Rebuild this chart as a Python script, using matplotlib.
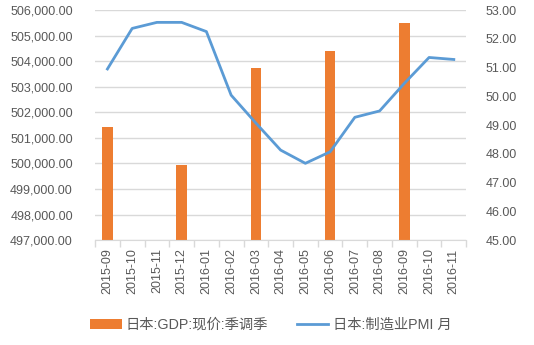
import numpy as np
import matplotlib
matplotlib.use('Agg')
import matplotlib.pyplot as plt
from matplotlib.ticker import FuncFormatter, FixedLocator

# data
months = ['2015-09', '2015-10', '2015-11', '2015-12', '2016-01', '2016-02',
          '2016-03', '2016-04', '2016-05', '2016-06', '2016-07', '2016-08',
          '2016-09', '2016-10', '2016-11']
gdp_idx = [0, 3, 6, 9, 12]               # quarters with a GDP value
gdp = [501420, 499935, 503730, 504396, 505491]
pmi = [50.95, 52.36, 52.57, 52.57, 52.25, 50.04, 49.07, 48.13, 47.67,
       48.07, 49.27, 49.49, 50.45, 51.35, 51.28]

gdp_label = '日本:GDP:现价:季调季'
pmi_label = '日本:制造业PMI 月'

plt.rcParams['font.family'] = ['Liberation Sans', 'Noto Sans CJK SC']
TXT = '#595959'
GRID = '#D9D9D9'

fig = plt.figure(figsize=(5.34, 3.45), dpi=100)
ax = fig.add_axes([0.178, 0.304, 0.695, 0.667])
ax2 = ax.twinx()

x = np.arange(len(months))
b = ax.bar(x[gdp_idx], gdp, width=0.42, color='#ED7D31', label=gdp_label, zorder=2)
ln, = ax2.plot(x, pmi, color='#5B9BD5', lw=2.0, label=pmi_label, zorder=3)

ax.set_ylim(497000, 506000)
ax.set_yticks(np.arange(497000, 506001, 1000))
ax.yaxis.set_major_formatter(FuncFormatter(lambda v, p: '{:,.2f}'.format(v)))
ax2.set_ylim(45, 53)
ax2.set_yticks(np.arange(45, 53.1, 1))
ax2.yaxis.set_major_formatter(FuncFormatter(lambda v, p: '{:.2f}'.format(v)))

ax.set_xlim(-0.5, len(months) - 0.5)
ax.set_xticks(x)
ax.set_xticklabels(months, rotation=90)
ax.xaxis.set_minor_locator(FixedLocator(np.arange(-0.5, len(months), 1)))
ax.tick_params(axis='x', which='major', length=0, pad=6, labelsize=9, labelcolor=TXT)
ax.tick_params(axis='x', which='minor', length=5, color=GRID, width=1)
ax.tick_params(axis='y', length=0, pad=16, labelsize=9, labelcolor=TXT)
ax2.tick_params(axis='y', length=0, pad=14, labelsize=9, labelcolor=TXT)

ax.yaxis.grid(True, color=GRID, lw=1)
ax.set_axisbelow(True)
for a in (ax, ax2):
    for s in ('top', 'left', 'right'):
        a.spines[s].set_visible(False)
    a.spines['bottom'].set_color(GRID)
ax2.spines['bottom'].set_visible(False)

leg = fig.legend([b, ln], [gdp_label, pmi_label], loc='center', ncol=2,
                 bbox_to_anchor=(0.507, 0.058), frameon=False, fontsize=10.3,
                 handlelength=2.2, handleheight=0.7, columnspacing=2.0,
                 handletextpad=0.3)
for t in leg.get_texts():
    t.set_color(TXT)

fig.savefig('out.png', dpi=100)
